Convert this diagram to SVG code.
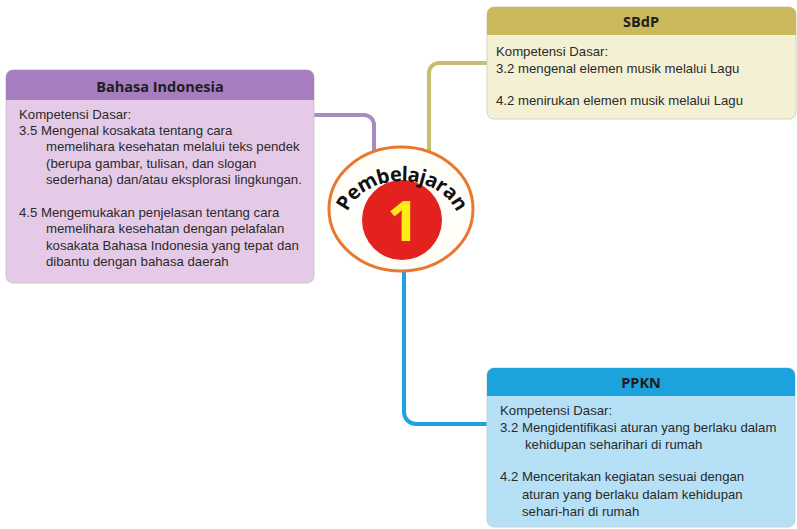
<svg xmlns="http://www.w3.org/2000/svg" width="797" height="529" viewBox="0 0 797 529">
<defs>
<style>
.t{font-family:"Liberation Sans","Noto Sans",sans-serif;font-size:13.2px;fill:#2a2a2a}
.h{font-family:"Open Sans","Liberation Sans",sans-serif;font-size:14.5px;font-weight:bold;fill:#1e1e1e;text-anchor:middle}
.conn{fill:none;stroke-width:4;stroke-linecap:round}
</style>
<path id="arc" d="M 344 228 A 58 47 0 0 1 460 228"/>
</defs>
<rect width="797" height="529" fill="#ffffff"/>
<g id="connectors">
<path class="conn" stroke="#a98bc2" d="M 314 115 H 364 A 10 10 0 0 1 374 125 V 152"/>
<path class="conn" stroke="#c8be72" d="M 429 152 V 73 A 10 10 0 0 1 439 63 H 488"/>
<path class="conn" stroke="#1ea4dc" d="M 404 268 V 412 A 12 12 0 0 0 416 424 H 488"/>
</g>
<g id="bahasa">
<rect x="6" y="70" width="308" height="213" rx="7" fill="#e4cae6" stroke="#cfc4d2" stroke-width="1"/>
<path d="M 6 100 V 77 A 7 7 0 0 1 13 70 H 307 A 7 7 0 0 1 314 77 V 100 Z" fill="#a67dbf"/>
<text class="h" x="160" y="92">Bahasa Indonesia</text>
<text class="t" x="19" y="119">Kompetensi Dasar:</text>
<text class="t" x="19" y="135">3.5 Mengenal kosakata tentang cara</text>
<text class="t" x="46" y="151">memelihara kesehatan melalui teks pendek</text>
<text class="t" x="46" y="168">(berupa gambar, tulisan, dan slogan</text>
<text class="t" x="46" y="184">sederhana) dan/atau eksplorasi lingkungan.</text>
<text class="t" x="19" y="217">4.5 Mengemukakan penjelasan tentang cara</text>
<text class="t" x="46" y="233">memelihara kesehatan dengan pelafalan</text>
<text class="t" x="46" y="250">kosakata Bahasa Indonesia yang tepat dan</text>
<text class="t" x="46" y="266">dibantu dengan bahasa daerah</text>
</g>
<g id="sbdp">
<rect x="487" y="7" width="309" height="112" rx="7" fill="#f4f0d3" stroke="#d6d3c2" stroke-width="1"/>
<path d="M 487 35 V 14 A 7 7 0 0 1 494 7 H 789 A 7 7 0 0 1 796 14 V 35 Z" fill="#c9b95c"/>
<text class="h" x="641" y="27">SBdP</text>
<text class="t" x="496" y="56">Kompetensi Dasar:</text>
<text class="t" x="496" y="73">3.2 mengenal elemen musik melalui Lagu</text>
<text class="t" x="496" y="105">4.2 menirukan elemen musik melalui Lagu</text>
</g>
<g id="ppkn">
<rect x="487" y="368" width="308" height="159" rx="7" fill="#b6e0f5" stroke="#c2d3dc" stroke-width="1"/>
<path d="M 487 396 V 375 A 7 7 0 0 1 494 368 H 788 A 7 7 0 0 1 795 375 V 396 Z" fill="#1ca3de"/>
<text class="h" x="641" y="388">PPKN</text>
<text class="t" x="500" y="415">Kompetensi Dasar:</text>
<text class="t" x="500" y="432">3.2 Mengidentifikasi aturan yang berlaku dalam</text>
<text class="t" x="525" y="449">kehidupan seharihari di rumah</text>
<text class="t" x="500" y="481">4.2 Menceritakan kegiatan sesuai dengan</text>
<text class="t" x="522" y="499">aturan yang berlaku dalam kehidupan</text>
<text class="t" x="522" y="516">sehari-hari di rumah</text>
</g>
<g id="center">
<ellipse cx="401" cy="209" rx="72" ry="62" fill="#fffdf8" stroke="#e8782e" stroke-width="3"/>
<circle cx="402" cy="220" r="40" fill="#e3211f"/>
<text x="403" y="241" font-family="'Open Sans','Liberation Sans',sans-serif" font-size="56" font-weight="bold" fill="#ffeb16" text-anchor="middle">1</text>
<text font-family="'Open Sans','Liberation Sans',sans-serif" font-size="20" font-weight="bold" fill="#111111" text-anchor="middle" letter-spacing="-0.6"><textPath href="#arc" startOffset="50%">Pembelajaran</textPath></text>
</g>
</svg>
